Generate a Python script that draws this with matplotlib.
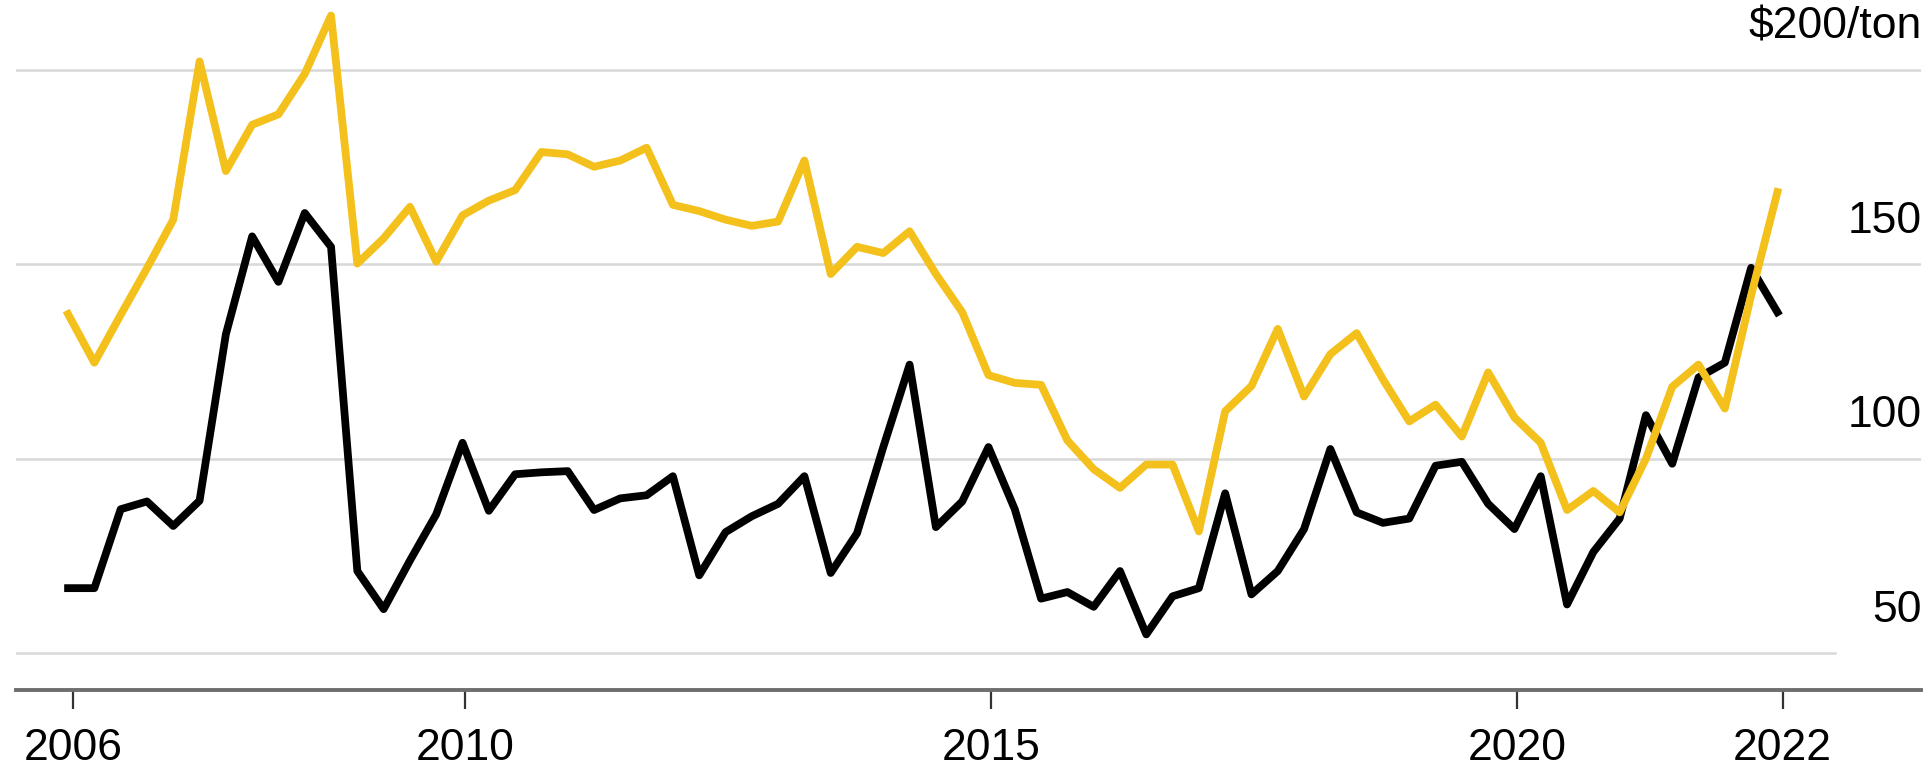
import numpy as np
import matplotlib.pyplot as plt
from matplotlib.transforms import blended_transform_factory

plt.rcParams['font.family'] = ['Liberation Sans', 'DejaVu Sans']

# price series, $/ton, one value per period
black_prices = [66.7, 66.7, 87.0, 89.0, 82.7, 89.2, 132.0, 157.2, 145.5, 163.2, 154.5,
                71.1, 61.3, 73.8, 85.7, 104.1, 86.6, 96.0, 96.5, 96.8, 86.8, 89.8,
                90.6, 95.5, 70.0, 81.1, 85.2, 88.4, 95.5, 70.6, 80.8, 103.0, 124.2,
                82.4, 89.0, 103.0, 87.0, 64.0, 65.7, 61.9, 71.1, 54.8, 64.6, 66.7,
                91.1, 65.1, 71.1, 81.9, 102.5, 86.2, 83.5, 84.6, 98.2, 99.2, 88.4,
                81.9, 95.5, 62.5, 76.0, 84.6, 111.2, 98.7, 120.9, 124.7, 149.1, 137.7]

yellow_prices = [137.2, 124.7, 137.0, 149.0, 161.5, 202.2, 174.0, 185.9, 188.6, 199.0, 214.0,
                 150.2, 156.7, 164.8, 150.7, 162.6, 166.4, 169.1, 178.9, 178.3, 175.1, 176.7,
                 180.0, 165.3, 163.7, 161.5, 159.9, 161.0, 176.7, 147.5, 154.5, 152.9, 158.5,
                 147.5, 137.7, 121.5, 119.5, 119.0, 104.7, 97.3, 92.5, 98.5, 98.5, 81.3,
                 112.2, 118.7, 133.4, 116.0, 126.9, 132.3, 120.4, 109.6, 113.9, 105.7, 122.2,
                 110.6, 104.1, 86.8, 91.7, 86.2, 100.0, 118.5, 124.2, 112.9, 142.0, 168.6]

# year ticks, placed on the period index
year_pos = [0.2, 15.1, 35.1, 55.1, 65.2]
year_labels = ['2006', '2010', '2015', '2020', '2022']

grid_values = [200, 150, 100, 50]
grid_labels = [r'\$200/ton', '150', '100', '50']

W, H = 1933, 773
fig = plt.figure(figsize=(W / 100, H / 100), dpi=100)
ax = fig.add_axes([16 / W, 83 / H, 1905 / W, 690 / H])

x = np.arange(len(black_prices))

# light horizontal grid, the lowest one stops short of its label
for v in grid_values:
    xmax = 0.955 if v == 50 else 1.0
    ax.axhline(v, xmin=0, xmax=xmax, color='#d8d8d8', lw=1.8, zorder=1)

ax.plot(x, black_prices, color='black', lw=5.6, zorder=3)
ax.plot(x, yellow_prices, color='#F3C01C', lw=5.6, zorder=4)

ax.set_xlim(-1.98, 70.46)
ax.set_ylim(40.5, 218)

for s in ['top', 'left', 'right']:
    ax.spines[s].set_visible(False)
ax.spines['bottom'].set_color('#6e6e6e')
ax.spines['bottom'].set_linewidth(2.8)

ax.set_xticks(year_pos, year_labels)
ax.tick_params(axis='x', length=14, width=1.6, color='#333333',
               labelsize=32, pad=13, labelcolor='black')
ax.set_yticks([])

# value labels sit right-aligned just above each gridline
trans = blended_transform_factory(fig.transFigure, ax.transData)
for v, lab in zip(grid_values, grid_labels):
    ax.text(1922 / W, v + 11, lab, transform=trans, ha='right', va='center',
            fontsize=32, color='black')

fig.savefig('out.png', dpi=100)
